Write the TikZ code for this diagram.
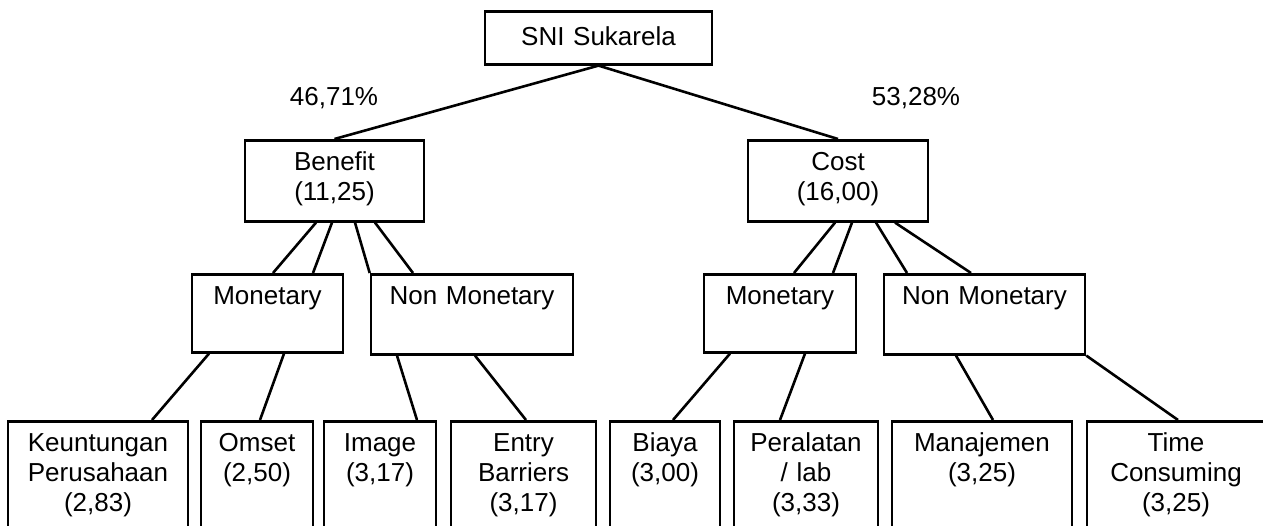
\documentclass[tikz,border=0pt]{standalone}
\usepackage{fontspec}
\setmainfont{Liberation Sans}

\begin{document}
\begin{tikzpicture}[
    x=1pt, y=-1pt, line width=2.6pt,
    every node/.style={font=\fontsize{26pt}{30pt}\selectfont},
    box/.style={draw, rectangle, anchor=north, align=center, inner xsep=0pt, inner ysep=11pt, text height=19pt},
    leaf/.style={box, text depth=100pt},
    pct/.style={anchor=base, inner sep=0pt}
]
\useasboundingbox (0,0) rectangle (1263,526);
\clip (0,0) rectangle (1263,526);

% top and first level
\node[box, text width=227pt, inner ysep=15pt, text depth=4pt] (root) at (598.5,10) {SNI Sukarela};
\node[box, text width=179pt, text depth=40pt] (benefit) at (334.5,139) {Benefit\\(11,25)};
\node[box, text width=180pt, text depth=40pt] (cost) at (838,139) {Cost\\(16,00)};
\node[pct] (pctB) at (334,106) {46,71\%};
\node[pct] (pctC) at (916,106) {53,28\%};

% second level
\node[box, text width=151pt, text depth=37pt] (monB) at (267.5,273) {Monetary};
\node[box, text width=202pt, text depth=39pt] (nonB) at (472,273) {Non Monetary};
\node[box, text width=152pt, text depth=37pt] (monC) at (780,273) {Monetary};
\node[box, text width=201pt, text depth=39pt] (nonC) at (984.5,273) {Non Monetary};

% leaves
\node[leaf, text width=180pt] (keu) at (98,420) {Keuntungan\\Perusahaan\\(2,83)};
\node[leaf, text width=112pt] (omset) at (257,420) {Omset\\(2,50)};
\node[leaf, text width=112pt] (image) at (380,420) {Image\\(3,17)};
\node[leaf, text width=145pt] (entry) at (523.5,420) {Entry\\Barriers\\(3,17)};
\node[leaf, text width=110pt] (biaya) at (665,420) {Biaya\\(3,00)};
\node[leaf, text width=144pt] (alat) at (806,420) {Peralatan\\/ lab\\(3,33)};
\node[leaf, text width=180pt] (manaj) at (982,420) {Manajemen\\(3,25)};
\node[leaf, text width=178pt] (time) at (1176,420) {Time\\Consuming\\(3,25)};

\draw (root.south) -- (benefit.north);
\draw (root.south) -- (cost.north);

\draw ([xshift=-18.5pt]benefit.south) -- ([xshift=5.5pt]monB.north);
\draw ([xshift=-2.5pt]benefit.south) -- ([xshift=45.5pt]monB.north);
\draw ([xshift=20.5pt]benefit.south) -- (nonB.north west);
\draw ([xshift=40.5pt]benefit.south) -- ([xshift=-59pt]nonB.north);
\draw ([xshift=-3pt]cost.south) -- ([xshift=14pt]monC.north);
\draw ([xshift=14pt]cost.south) -- ([xshift=53pt]monC.north);
\draw ([xshift=38pt]cost.south) -- ([xshift=-77.5pt]nonC.north);
\draw ([xshift=57pt]cost.south) -- ([xshift=-13.5pt]nonC.north);

\draw ([xshift=-58.5pt]monB.south) -- ([xshift=54pt]keu.north);
\draw ([xshift=16.5pt]monB.south) -- ([xshift=3pt]omset.north);
\draw ([xshift=-75pt]nonB.south) -- ([xshift=37pt]image.north);
\draw ([xshift=3pt]nonB.south) -- ([xshift=2.5pt]entry.north);
\draw ([xshift=-50pt]monC.south) -- ([xshift=8pt]biaya.north);
\draw ([xshift=25pt]monC.south) -- ([xshift=-26pt]alat.north);
\draw ([xshift=-28.5pt]nonC.south) -- ([xshift=11pt]manaj.north);
\draw (nonC.south east) -- ([xshift=2pt]time.north);
\end{tikzpicture}
\end{document}
